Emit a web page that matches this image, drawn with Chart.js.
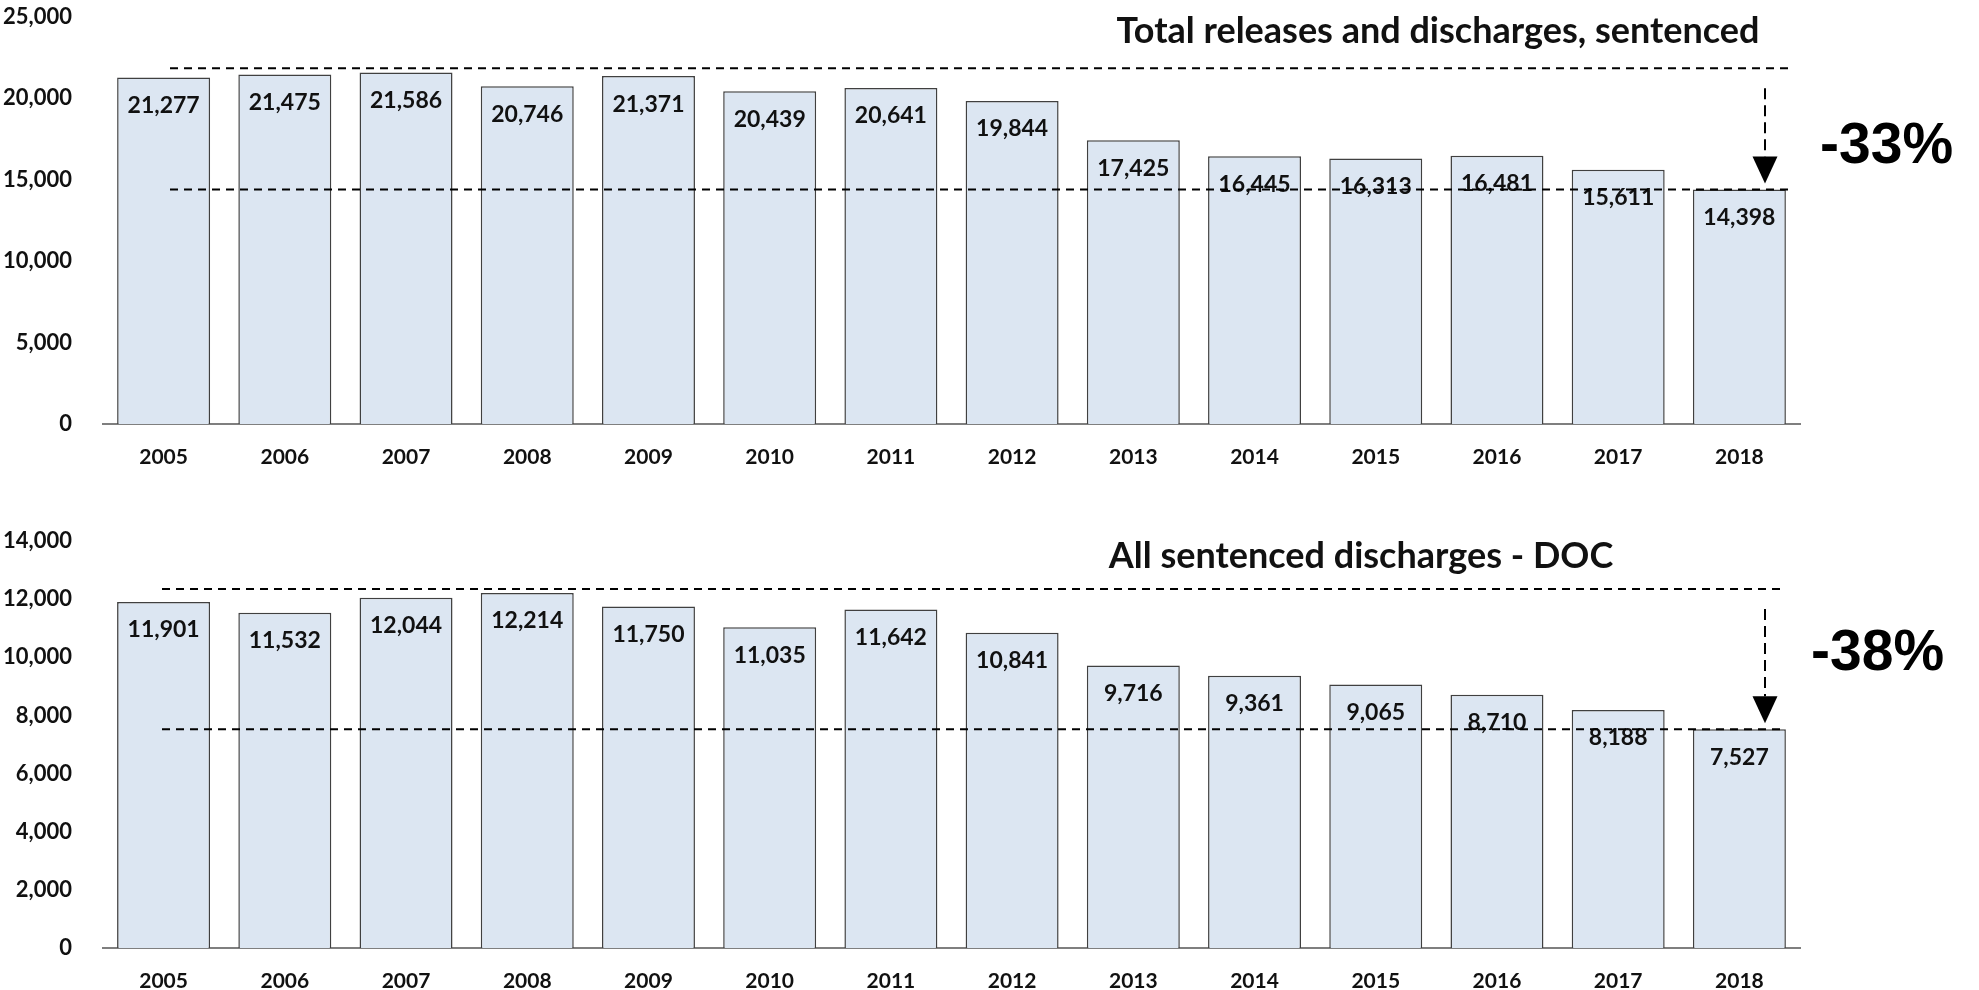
<!DOCTYPE html>
<html>
<head>
<meta charset="utf-8">
<script src="https://cdn.jsdelivr.net/npm/chart.js@4.4.0/dist/chart.umd.min.js"></script>
<style>
html, body { margin: 0; padding: 0; background: #fff; }
.box { position: absolute; left: 0; width: 1979px; height: 495px; }
</style>
</head>
<body>
<div class="box" style="top:0"><canvas id="topChart"></canvas></div>
<div class="box" style="top:495px"><canvas id="bottomChart"></canvas></div>
<script>
const years = ['2005', '2006', '2007', '2008', '2009', '2010', '2011', '2012', '2013', '2014', '2015', '2016', '2017', '2018'];
const totalReleases = [21277, 21475, 21586, 20746, 21371, 20439, 20641, 19844, 17425, 16445, 16313, 16481, 15611, 14398];
const docDischarges = [11901, 11532, 12044, 12214, 11750, 11035, 11642, 10841, 9716, 9361, 9065, 8710, 8188, 7527];
// dashed guide lines: [top level, bottom level]
const totalGuides = [21850, 14398];
const docGuides = [12345, 7527];
const totalAxis = { max: 25000, step: 5000 };
const docAxis = { max: 14000, step: 2000 };

Chart.defaults.font.family = 'Lato';
Chart.defaults.color = '#111';

const overlay = {
    id: 'overlay',
    afterDatasetsDraw(chart, args, o) {
        const ctx = chart.ctx;
        const ys = chart.scales.y;
        const meta = chart.getDatasetMeta(0);
        const values = chart.data.datasets[0].data;
        ctx.save();
        // value labels inside the bars
        ctx.font = 'bold 23px Lato';
        ctx.fillStyle = '#111';
        ctx.textAlign = 'center';
        ctx.textBaseline = 'middle';
        meta.data.forEach((bar, i) => {
            ctx.fillText(values[i].toLocaleString('en-US'), bar.x, bar.y + 28);
        });
        // title
        ctx.font = 'bold 36px Lato';
        ctx.fillText(o.title, o.titleX, o.titleY);
        // dashed guides
        const yHigh = ys.getPixelForValue(o.guides[0]);
        const yLow = ys.getPixelForValue(o.guides[1]);
        ctx.strokeStyle = '#000';
        ctx.lineWidth = 2;
        ctx.setLineDash([8, 6]);
        [yHigh, yLow].forEach(y => {
            ctx.beginPath();
            ctx.moveTo(o.lineStart, y);
            ctx.lineTo(o.lineEnd, y);
            ctx.stroke();
        });
        // arrow
        ctx.setLineDash([11, 6]);
        const tip = yLow - 6;
        const headTop = tip - 27;
        ctx.beginPath();
        ctx.moveTo(o.arrowX, yHigh + 20);
        ctx.lineTo(o.arrowX, headTop);
        ctx.stroke();
        ctx.setLineDash([]);
        ctx.fillStyle = '#000';
        ctx.beginPath();
        ctx.moveTo(o.arrowX - 12.5, headTop);
        ctx.lineTo(o.arrowX + 12.5, headTop);
        ctx.lineTo(o.arrowX, tip);
        ctx.closePath();
        ctx.fill();
        // percent change
        ctx.font = 'bold 57px "Liberation Sans"';
        ctx.textAlign = 'left';
        ctx.textBaseline = 'alphabetic';
        ctx.fillText(o.pct, o.pctX, o.pctY);
        ctx.restore();
    }
};

function makeChart(id, values, axis, padTop, xHeight, extra) {
    return new Chart(document.getElementById(id), {
        type: 'bar',
        data: {
            labels: years,
            datasets: [{
                data: values,
                backgroundColor: '#dce6f2',
                borderColor: '#404040',
                borderWidth: 1.5,
                categoryPercentage: 1,
                barPercentage: 0.767
            }]
        },
        options: {
            responsive: true,
            maintainAspectRatio: false,
            animation: false,
            layout: { padding: { top: padTop, right: 179, bottom: 0, left: 0 } },
            plugins: {
                legend: { display: false },
                tooltip: { enabled: false },
                overlay: extra
            },
            scales: {
                x: {
                    grid: { display: false },
                    border: { display: true, color: '#7f7f7f', width: 2 },
                    ticks: { font: { size: 21, weight: 'bold' }, padding: 13, color: '#111' },
                    afterFit: s => { s.height = xHeight; }
                },
                y: {
                    min: 0,
                    max: axis.max,
                    grid: { display: false },
                    border: { display: false },
                    ticks: { stepSize: axis.step, font: { size: 22, weight: 'bold' }, padding: 23, color: '#111' },
                    afterFit: s => {
                        s.width = 103;
                        s.paddingTop = 0;
                        s.paddingBottom = 0;
                    }
                }
            }
        },
        plugins: [overlay]
    });
}

window.addEventListener('load', function() {
    makeChart('topChart', totalReleases, totalAxis, 17, 71, {
        title: 'Total releases and discharges, sentenced',
        titleX: 1438, titleY: 31,
        guides: totalGuides,
        lineStart: 170, lineEnd: 1790,
        arrowX: 1765,
        pct: '-33%', pctX: 1820, pctY: 163
    });
    makeChart('bottomChart', docDischarges, docAxis, 46, 42, {
        title: 'All sentenced discharges - DOC',
        titleX: 1361, titleY: 61,
        guides: docGuides,
        lineStart: 162, lineEnd: 1786,
        arrowX: 1765,
        pct: '-38%', pctX: 1811, pctY: 175
    });
});
</script>
</body>
</html>
